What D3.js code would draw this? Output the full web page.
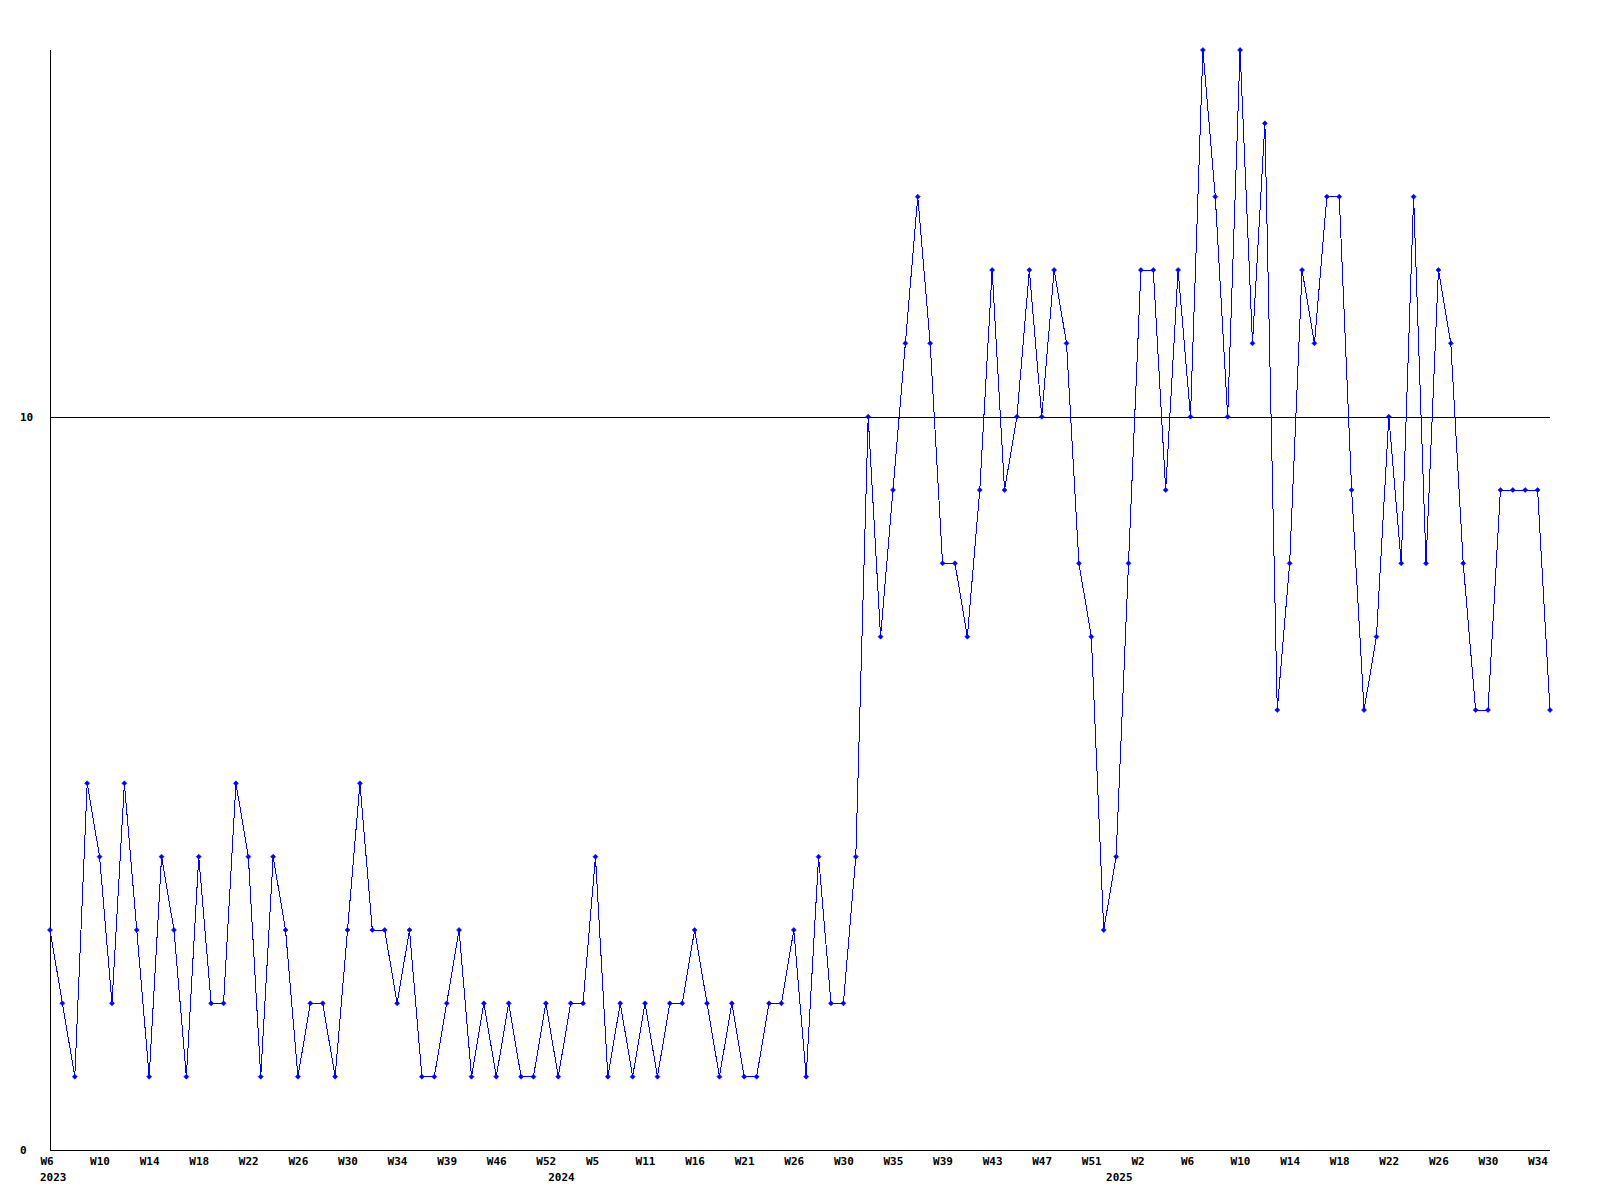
<!DOCTYPE html>
<html>
<head>
<meta charset="utf-8">
<script src="https://cdn.jsdelivr.net/npm/d3@7"></script>
<style>
  html, body { margin: 0; padding: 0; background: #ffffff; }
  svg { display: block; }
  text { font-family: "DejaVu Sans Mono", "Liberation Mono", monospace; font-weight: bold; font-size: 11px; fill: #000; }
</style>
</head>
<body>
<svg id="chart" width="1600" height="1200"></svg>
<script>
// ---- data ----
const weeks2023 = [6,7,8,9,10,11,12,13,14,15,16,17,18,19,20,21,22,23,24,25,26,27,28,29,30,31,32,33,34,35,36,37,39,41,43,45,46,47,49,50,52];
const weeks2024 = [1,2,3,5,6,8,9,11,12,14,15,16,17,18,20,21,22,24,25,26,27,28,29,30,31,33,34,35,36,37,38,39,40,41,42,43,44,45,46,47,48,49,50,51,52];
const weeks2025 = [0,1,2,3,4,5,6,7,8,9,10,11,12,13,14,15,16,17,18,19,20,21,22,23,24,25,26,27,28,29,30,31,32,33,34,35];
const yearNames = ["2023", "2024", "2025"];
const values = [
  3,2,1,5,4,2,5,3,1,4,
  3,1,4,2,2,5,4,1,4,3,
  1,2,2,1,3,5,3,3,2,3,
  1,1,2,3,1,2,1,2,1,1,
  2,1,2,2,4,1,2,1,2,1,
  2,2,3,2,1,2,1,1,2,2,
  3,1,4,2,2,4,10,7,9,11,
  13,11,8,8,7,9,12,9,10,12,
  10,12,11,8,7,3,4,8,12,12,
  9,12,10,15,13,10,15,11,14,6,
  8,12,11,13,13,9,6,7,10,8,
  13,8,12,11,8,6,6,9,9,9,
  9,6
];
const yTicks = [0, 10];
const yMax = 15;

(function () {
  // ---- build categories ----
  const categories = [];
  [weeks2023, weeks2024, weeks2025].forEach((wk, yi) => {
    wk.forEach((w, j) => categories.push({ label: "W" + w, year: yearNames[yi], first: j === 0 }));
  });
  const data = values.map((v, i) => ({ i, v, cat: categories[i] }));

  // ---- layout ----
  const svg = d3.select("#chart");
  const mLeft = 50, mRight = 1550, mTop = 50, mBottom = 1150;

  const x = d3.scalePoint().domain(d3.range(values.length)).range([mLeft, mRight]);
  const y = d3.scaleLinear().domain([0, yMax]).range([mBottom, mTop]);

  // grid line at 10
  svg.append("g").selectAll("line").data(yTicks.filter(t => t > 0)).join("line")
    .attr("x1", mLeft).attr("x2", mRight)
    .attr("y1", d => Math.round(y(d)) + 0.5).attr("y2", d => Math.round(y(d)) + 0.5)
    .attr("stroke", "#000").attr("stroke-width", 1).attr("shape-rendering", "crispEdges");

  // axis lines
  svg.append("line").attr("x1", mLeft + 0.5).attr("x2", mLeft + 0.5).attr("y1", mTop).attr("y2", mBottom + 0.5)
    .attr("stroke", "#000").attr("shape-rendering", "crispEdges");
  svg.append("line").attr("x1", mLeft).attr("x2", mRight).attr("y1", mBottom + 0.5).attr("y2", mBottom + 0.5)
    .attr("stroke", "#000").attr("shape-rendering", "crispEdges");

  // y axis labels
  const yAxis = d3.axisLeft(y).tickValues(yTicks).tickSize(0).tickFormat(d3.format("d"));
  const gy = svg.append("g").attr("transform", `translate(${mLeft},0)`).call(yAxis);
  gy.select(".domain").remove();
  gy.attr("font-size", null).attr("font-family", null);
  gy.selectAll("text").attr("x", -30).attr("text-anchor", "start").attr("dy", "0.32em");

  // x axis labels (every 4th point)
  const tickIdx = d3.range(0, values.length, 4);
  const xAxis = d3.axisBottom(x).tickValues(tickIdx).tickSize(0).tickFormat(i => categories[i].label);
  const gx = svg.append("g").attr("transform", `translate(0,${mBottom})`).call(xAxis);
  gx.select(".domain").remove();
  gx.attr("font-size", null).attr("font-family", null);
  gx.selectAll("text").attr("x", -10).attr("y", 15).attr("dy", null).attr("text-anchor", "start");

  // year labels
  svg.append("g").selectAll("text").data(data.filter(d => d.cat.first)).join("text")
    .attr("x", d => x(d.i) - 10).attr("y", mBottom + 31)
    .text(d => d.cat.year);

  // line
  const line = d3.line().x(d => x(d.i)).y(d => y(d.v));
  svg.append("path").datum(data)
    .attr("d", line).attr("fill", "none").attr("stroke", "#0000ff").attr("stroke-width", 1)
    .attr("shape-rendering", "crispEdges");

  // markers
  svg.append("g").selectAll("path").data(data).join("path")
    .attr("transform", d => `translate(${x(d.i)},${y(d.v)})`)
    .attr("d", "M-2.5,0L0,-2.5L2.5,0L0,2.5Z")
    .attr("fill", "#0000ff").attr("stroke", "#0000ff").attr("stroke-width", 0.6);
})();
</script>
</body>
</html>
